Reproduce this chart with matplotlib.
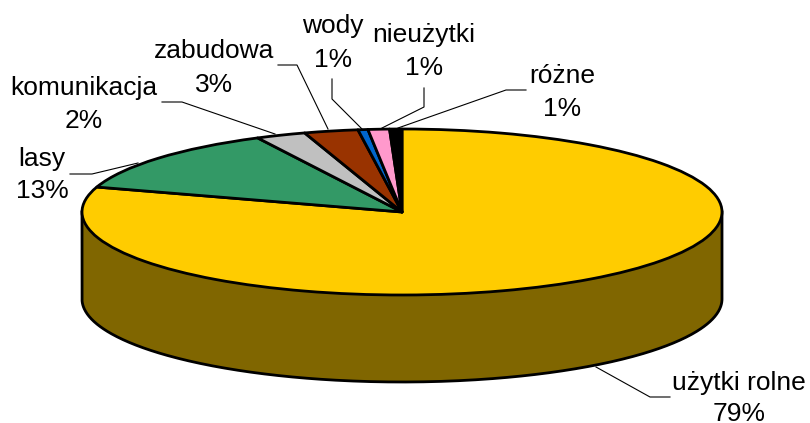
import numpy as np
import matplotlib
matplotlib.use("Agg")
import matplotlib.pyplot as plt

plt.rcParams['font.family'] = ['Liberation Sans', 'DejaVu Sans']

# shares (clockwise from the top)
names = ['użytki rolne', 'lasy', 'komunikacja', 'zabudowa', 'wody', 'nieużytki', 'różne']
percents = ['79%', '13%', '2%', '3%', '1%', '1%', '1%']
shares = [79.86, 12.69, 2.53, 2.72, 0.50, 1.08, 0.62]
colors = ['#FFCC00', '#339966', '#C0C0C0', '#993300', '#0066CC', '#FF99CC', '#000000']
side_color = '#806600'

W, H = 810, 423
cx, cy = 402, 212  # pie centre, px
rx, ry = 320, 83   # ellipse radii, px
depth = 87 / ry    # wall height in pie units
outline = 2.0

fig = plt.figure(figsize=(W / 100, H / 100), dpi=100)
ax = fig.add_axes([0, 0, 1, 1])

# pie in unit circle, squashed by the axis limits
ax.pie(shares, colors=colors, startangle=90, counterclock=False, radius=1,
       wedgeprops=dict(edgecolor='black', linewidth=outline, joinstyle='round', zorder=3))
ax.set_aspect('auto')
ax.set_xlim(-cx / rx, (W - cx) / rx)
ax.set_ylim(-(H - cy) / ry, cy / ry)
ax.axis('off')

# wall under the front half
t = np.linspace(np.pi, 2 * np.pi, 400)
x = np.cos(t)
front = np.sin(t)
ax.fill_between(x, front, front - depth, color=side_color, linewidth=0, zorder=1)
wall_x = np.concatenate([[-1], x, [1]])
wall_y = np.concatenate([[0], front - depth, [0]])
ax.plot(wall_x, wall_y, color='black', lw=outline, zorder=2, solid_joinstyle='round')

# labels and leader lines, in pixels
over = fig.add_axes([0, 0, 1, 1])
over.set_xlim(0, W)
over.set_ylim(H, 0)
over.axis('off')
over.patch.set_alpha(0)

label_x = [739, 42, 84, 214, 333, 424, 562]
name_y = [390, 166, 95, 58, 33, 42, 83]
pct_y = [421, 198, 128, 92, 67, 75, 116]
leaders = [
    [(670, 397), (650, 397), (596, 367)],
    [(70, 174), (92, 174), (138, 163)],
    [(162, 102), (182, 102), (275, 134)],
    [(278, 65), (297, 65), (328, 129)],
    [(332, 79), (332, 99), (362, 129)],
    [(424, 88), (424, 107), (382, 128)],
    [(526, 90), (506, 90), (398, 128)],
]

for i in range(len(names)):
    over.text(label_x[i], name_y[i], names[i], fontsize=19, ha='center', va='baseline', color='black')
    over.text(label_x[i], pct_y[i], percents[i], fontsize=19, ha='center', va='baseline', color='black')
    pts = np.array(leaders[i])
    over.plot(pts[:, 0], pts[:, 1], color='black', lw=0.8)

fig.savefig('out.png', dpi=100)
